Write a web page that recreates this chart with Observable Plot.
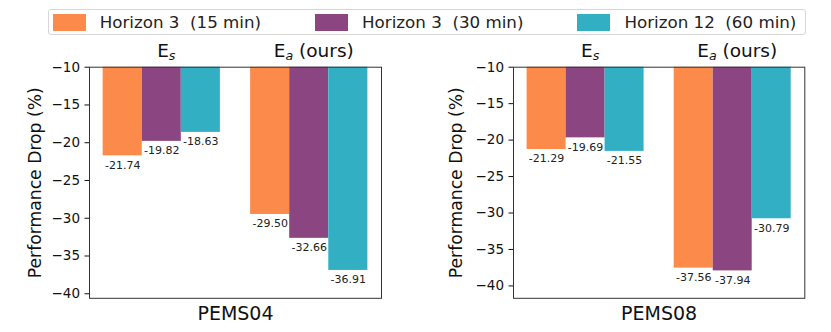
<!DOCTYPE html>
<html><head><meta charset="utf-8">
<script src="https://cdn.jsdelivr.net/npm/d3@7"></script>
<script src="https://cdn.jsdelivr.net/npm/@observablehq/plot@0.6"></script>
<style>
body{margin:0;background:#fff;width:831px;height:332px;overflow:hidden;position:relative;font-family:"DejaVu Sans",sans-serif;}
#legend{position:absolute;left:48px;top:9px;width:758px;height:26px;box-sizing:border-box;border:1px solid #d6d6d6;border-radius:3px;display:flex;align-items:center;padding-left:3.7px;font-size:16.7px;color:#222;background:#fff;}
.item{display:flex;align-items:center;margin-right:54px;}
.sw{width:33px;height:17px;margin-right:14px;}
.lab{white-space:pre;}
#p1{position:absolute;left:0;top:38px;}
#p2{position:absolute;left:415px;top:38px;}
</style></head><body>
<div id="legend"></div>
<div id="p1"></div><div id="p2"></div>
<script>
const groups = ["Es", "Ea (ours)"];
const groupMain = ["E", "E"];
const groupSub = ["s", "a"];
const groupTail = ["", " (ours)"];
const seriesNames = ["Horizon 3  (15 min)", "Horizon 3  (30 min)", "Horizon 12  (60 min)"];
const seriesColors = ["#fb8a4b", "#8b4581", "#33afc3"];
const datasets = ["PEMS04", "PEMS08"];
const pems04Es = [-21.74, -19.82, -18.63];
const pems04Ea = [-29.50, -32.66, -36.91];
const pems08Es = [-21.29, -19.69, -21.55];
const pems08Ea = [-37.56, -37.94, -30.79];
const yTicks = [-10, -15, -20, -25, -30, -35, -40];
const yLabel = "Performance Drop (%)";

// legend
const leg = d3.select("#legend");
seriesNames.forEach((n, i) => {
  const it = leg.append("div").attr("class", "item");
  it.append("div").attr("class", "sw").style("background", seriesColors[i]);
  it.append("span").attr("class", "lab").text(n);
});

function panel(name, esVals, eaVals, yMin, ml, pw, mr, labelDx) {
  const rows = [];
  [esVals, eaVals].forEach((vals, g) => vals.forEach((v, s) => rows.push({g, s, series: seriesNames[s], value: v})));
  const bw = 0.265;
  const cx = d => d.g + (d.s - 1) * bw;
  const plot = Plot.plot({
    width: ml + pw + mr, height: 294,
    marginLeft: ml, marginRight: mr, marginTop: 28.7, marginBottom: 34.2,
    style: {fontFamily: "DejaVu Sans", fontSize: "13.5px", background: "white", color: "#111", overflow: "visible", maxWidth: "none"},
    x: {domain: [-0.49, 1.49], axis: null},
    y: {domain: [yMin, -10], ticks: yTicks, tickFormat: d3.format("d"), tickSize: 4.5, tickPadding: 5, label: null},
    color: {domain: seriesNames, range: seriesColors},
    marks: [
      Plot.rect(rows, {x1: d => cx(d) - bw / 2, x2: d => cx(d) + bw / 2, y1: () => 0, y2: "value", fill: "series", clip: true}),
      Plot.frame({stroke: "#333", strokeWidth: 1}),
      Plot.text(rows, {x: cx, y: "value", text: d => d.value.toFixed(2), lineAnchor: "top", dy: 5, fontSize: 11, fill: "#222"}),
      Plot.text(groups, {x: (d, i) => i, text: d => d, frameAnchor: "top", lineAnchor: "bottom", textAnchor: "middle", dy: -10.7, dx: 4.5, fontSize: 18.5, fill: "#111"}),
      Plot.text([name], {text: d => d, frameAnchor: "bottom", lineAnchor: "bottom", textAnchor: "middle", dy: 21.5, fontSize: 19, fill: "#111"}),
      Plot.text([yLabel], {text: d => d, frameAnchor: "left", textAnchor: "middle", lineAnchor: "middle", rotate: -90, dx: labelDx, fontSize: 17.2, fill: "#111"})
    ]
  });
  d3.select(plot).selectAll("text").filter(function() { return groups.includes(this.textContent); }).each(function() {
    const j = groups.indexOf(this.textContent);
    const t = d3.select(this);
    t.text(null);
    t.append("tspan").text(groupMain[j]);
    t.append("tspan").attr("font-size", "12.6px").attr("font-style", "italic").attr("dy", 3.8).text(groupSub[j]);
    if (groupTail[j]) t.append("tspan").attr("dy", -3.8).text(groupTail[j]);
  });
  return plot;
}

document.getElementById("p1").appendChild(panel(datasets[0], pems04Es, pems04Ea, -40.6, 89, 292, 34, -54));
document.getElementById("p2").appendChild(panel(datasets[1], pems08Es, pems08Ea, -41.7, 98, 291.3, 26.7, -56.7));
</script>
</body></html>
